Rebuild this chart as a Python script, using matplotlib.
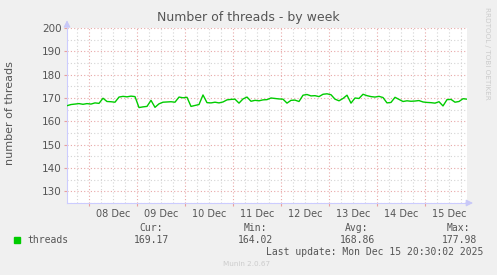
import matplotlib
matplotlib.use("Agg")
import matplotlib.pyplot as plt
import matplotlib.dates as mdates
from matplotlib.ticker import MultipleLocator, FuncFormatter
import pandas as pd
import numpy as np

# ---- data ----
threads = [
    166.7, 167.2, 167.4, 167.6, 167.3, 167.6, 167.4, 167.9, 167.7, 169.9,
    168.5, 168.4, 168.2, 170.4, 170.7, 170.5, 170.8, 170.6, 165.9, 166.2,
    166.4, 169.0, 166.0, 167.5, 168.2, 168.3, 168.4, 168.2, 170.4, 170.1,
    170.3, 166.4, 166.8, 167.2, 171.3, 168.0, 167.9, 168.2, 167.9, 168.3,
    169.2, 169.4, 169.5, 167.8, 169.6, 170.4, 168.6, 169.0, 168.8, 169.2,
    169.3, 170.0, 169.8, 169.6, 169.5, 167.8, 169.0, 169.1, 168.5, 171.2,
    171.5, 170.9, 171.0, 170.6, 171.6, 171.8, 171.4, 169.5, 168.8, 169.8,
    171.2, 167.8, 170.0, 169.8, 171.6, 171.0, 170.6, 170.4, 170.7, 170.2,
    167.9, 168.1, 170.3, 169.4, 168.5, 168.8, 168.6, 168.7, 168.9, 168.3,
    168.1, 168.0, 167.8, 168.4, 166.6, 169.3, 169.4, 168.2, 168.5, 169.7,
    169.5,
]
start_time = "2025-12-07 13:00"
step = "2h"
view_start = "2025-12-07 13:00"
view_end = "2025-12-15 21:00"
y_min, y_max = 125, 200
stat_labels = ["Cur:", "Min:", "Avg:", "Max:"]
stat_values = ["169.17", "164.02", "168.86", "177.98"]
series_name = "threads"
title = "Number of threads - by week"
ylabel = "number of threads"
last_update = "Last update: Mon Dec 15 20:30:02 2025"
footer = "Munin 2.0.67"
side_text = "RRDTOOL / TOBI OETIKER"

times = pd.date_range(start_time, periods=len(threads), freq=step)

W, H = 497, 275
fig = plt.figure(figsize=(W / 100, H / 100), dpi=100)
fig.patch.set_facecolor("#f0f0f0")

L, R, T, B = 67, 467, 28, 203
ax = fig.add_axes([L / W, 1 - B / H, (R - L) / W, (B - T) / H])
ax.set_facecolor("white")

ax.plot(times, threads, color="#00cc00", lw=1.0, zorder=3)

ax.set_xlim(pd.Timestamp(view_start), pd.Timestamp(view_end))
ax.set_ylim(y_min, y_max)

# grid
major_c = "#e8a8a8"
minor_c = "#d4d4d4"
ax.yaxis.set_major_locator(MultipleLocator(10))
ax.yaxis.set_minor_locator(MultipleLocator(5))
ax.xaxis.set_major_locator(mdates.DayLocator())
ax.xaxis.set_minor_locator(mdates.HourLocator(byhour=[6, 12, 18]))
ax.xaxis.set_major_formatter(FuncFormatter(lambda v, p: ""))
ax.xaxis.set_minor_formatter(
    FuncFormatter(lambda v, p: mdates.num2date(v).strftime("%d Dec")
                  if mdates.num2date(v).hour == 12 else ""))
ax.grid(which="major", color=major_c, ls=(0, (1, 2)), lw=0.8)
ax.grid(which="minor", color=minor_c, ls=(0, (1, 2)), lw=0.8)

ax.tick_params(axis="y", which="major", length=2, color="#e8a0a0",
               labelsize=7.5, labelcolor="#555555", pad=2)
ax.tick_params(axis="y", which="minor", length=0)
ax.tick_params(axis="x", which="major", length=2, color="#e8a0a0", pad=2)
ax.tick_params(axis="x", which="minor", length=0, labelsize=7,
               labelcolor="#555555", pad=4)

for s in ["top", "right"]:
    ax.spines[s].set_visible(False)
for s in ["left", "bottom"]:
    ax.spines[s].set_color("#ccccff")
    ax.spines[s].set_linewidth(0.8)

# axis arrows
ax.annotate("", xy=(0, 1.06), xytext=(0, 0.99), xycoords="axes fraction",
            arrowprops=dict(arrowstyle="-|>", color="#c8c8f8", lw=0.8,
                            mutation_scale=10), annotation_clip=False)
ax.annotate("", xy=(1.022, 0), xytext=(0.99, 0), xycoords="axes fraction",
            arrowprops=dict(arrowstyle="-|>", color="#c8c8f8", lw=0.8,
                            mutation_scale=10), annotation_clip=False)

def ftext(x, y, s, **kw):
    fig.text(x / W, 1 - y / H, s, **kw)

ftext(248, 17, title, ha="center", va="center", fontsize=9, color="#555555")
ftext(10, 113, ylabel, ha="center", va="center", rotation=90, fontsize=8,
      color="#555555")
ftext(487, 53, side_text, ha="center", va="center", rotation=270,
      fontsize=5.2, color="#cccccc")

mono = "DejaVu Sans Mono"
fig.patches.append(plt.Rectangle((14 / W, 1 - 243 / H), 6 / W, 6 / H,
                                 transform=fig.transFigure,
                                 color="#00cc00", figure=fig))
ftext(27, 240, series_name, ha="left", va="center", fontsize=7,
      family=mono, color="#555555")
label_right = [163, 267, 368, 470]
value_right = [169, 273, 375, 477]
for lab, val, lx, vx in zip(stat_labels, stat_values, label_right, value_right):
    ftext(lx, 228, lab, ha="right", va="center", fontsize=7, family=mono,
          color="#555555")
    ftext(vx, 240, val, ha="right", va="center", fontsize=7, family=mono,
          color="#555555")
ftext(483, 252, last_update, ha="right", va="center", fontsize=7,
      family=mono, color="#555555")
ftext(247, 264, footer, ha="center", va="center", fontsize=5.2,
      color="#cccccc")

fig.savefig("out.png", dpi=100, facecolor=fig.get_facecolor())
